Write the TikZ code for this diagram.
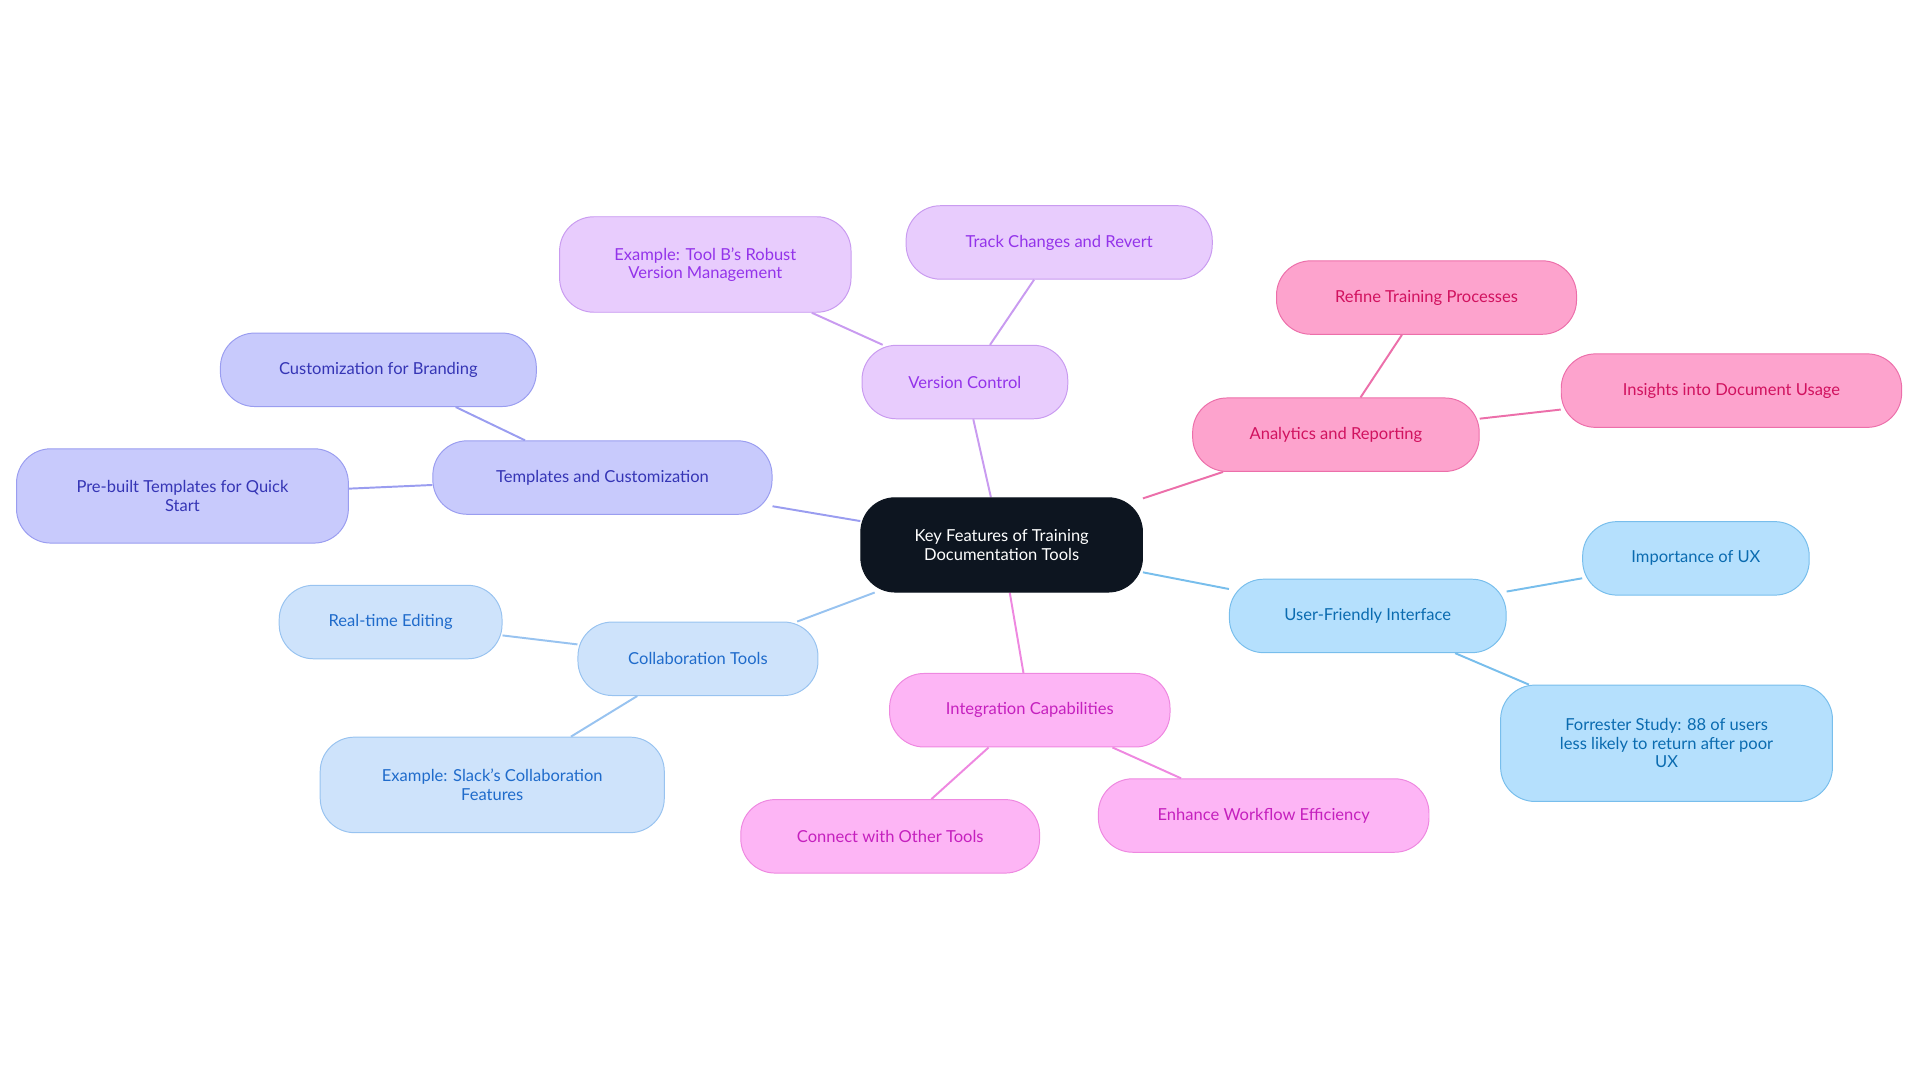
\documentclass[tikz,border=0pt]{standalone}
\usepackage{fontspec}
\setmainfont{Lato}
\usetikzlibrary{backgrounds}
\definecolor{purF}{HTML}{E8CCFD}\definecolor{purD}{HTML}{C99BF0}\definecolor{purT}{HTML}{9333EA}
\definecolor{pinF}{HTML}{FDA3CD}\definecolor{pinD}{HTML}{EC6FAA}\definecolor{pinT}{HTML}{D1125F}
\definecolor{bluF}{HTML}{B5E0FD}\definecolor{bluD}{HTML}{78BEEC}\definecolor{bluT}{HTML}{0A6BB0}
\definecolor{magF}{HTML}{FDB5F5}\definecolor{magD}{HTML}{EE88E0}\definecolor{magT}{HTML}{C520BE}
\definecolor{lbF}{HTML}{CEE3FB}\definecolor{lbD}{HTML}{98C3F0}\definecolor{lbT}{HTML}{1F6BCB}
\definecolor{indF}{HTML}{C8CAFC}\definecolor{indD}{HTML}{9A9DF0}\definecolor{indT}{HTML}{3535B5}
\definecolor{core}{HTML}{0D1520}
\tikzset{x=1pt,y=-1pt,
 box/.style={draw,line width=0.8pt,rounded corners=28pt,minimum height=60pt,align=center,font=\fontsize{13.5}{15}\selectfont,inner sep=2pt},
 pur/.style={box,fill=purF,draw=purD,text=purT},
 pin/.style={box,fill=pinF,draw=pinD,text=pinT},
 blu/.style={box,fill=bluF,draw=bluD,text=bluT},
 mag/.style={box,fill=magF,draw=magD,text=magT},
 lb/.style={box,fill=lbF,draw=lbD,text=lbT},
 ind/.style={box,fill=indF,draw=indD,text=indT},
 ed/.style={line width=1.6pt}}
\begin{document}
\begin{tikzpicture}
\useasboundingbox (0,0) rectangle (1568,884);
\node[box,fill=core,draw=core,text=white,minimum width=230pt,minimum height=77pt] (c) at (818,445) {Key Features of Training\\Documentation Tools};
\node[pur,minimum width=168pt] (vc) at (788,312) {Version Control};
\node[pur,minimum width=250pt] (tc) at (865,198) {Track Changes and Revert};
\node[pur,minimum width=238pt,minimum height=78pt] (tb) at (576,216) {Example: Tool B's Robust\\Version Management};
\node[pin,minimum width=234pt] (ar) at (1091,355) {Analytics and Reporting};
\node[pin,minimum width=245pt] (rt) at (1165,243) {Refine Training Processes};
\node[pin,minimum width=278pt] (id) at (1414,319) {Insights into Document Usage};
\node[blu,minimum width=226pt] (uf) at (1117,503) {User-Friendly Interface};
\node[blu,minimum width=185pt] (ux) at (1385,456) {Importance of UX};
\node[blu,minimum width=271pt,minimum height=95pt] (fs) at (1361,607) {Forrester Study: 88 of users\\less likely to return after poor\\UX};
\node[mag,minimum width=229pt] (ic) at (841,580) {Integration Capabilities};
\node[mag,minimum width=244pt] (co) at (727,683) {Connect with Other Tools};
\node[mag,minimum width=270pt] (ew) at (1032,666) {Enhance Workflow Efficiency};
\node[lb,minimum width=196pt] (ct) at (570,538) {Collaboration Tools};
\node[lb,minimum width=182pt] (re) at (319,508) {Real-time Editing};
\node[lb,minimum width=281pt,minimum height=78pt] (sl) at (402,641) {Example: Slack's Collaboration\\Features};
\node[ind,minimum width=277pt] (tp) at (492,390) {Templates and Customization};
\node[ind,minimum width=258pt] (cb) at (309,302) {Customization for Branding};
\node[ind,minimum width=271pt,minimum height=77pt] (pb) at (149,405) {Pre-built Templates for Quick\\Start};
\begin{scope}[on background layer]
\draw[ed,draw=purD] (c)--(vc) (vc)--(tc) (vc)--(tb);
\draw[ed,draw=pinD] (c)--(ar) (ar)--(rt) (ar)--(id);
\draw[ed,draw=bluD] (c)--(uf) (uf)--(ux) (uf)--(fs);
\draw[ed,draw=magD] (c)--(ic) (ic)--(co) (ic)--(ew);
\draw[ed,draw=lbD] (c)--(ct) (ct)--(re) (ct)--(sl);
\draw[ed,draw=indD] (c)--(tp) (tp)--(cb) (tp)--(pb);
\end{scope}
\end{tikzpicture}
\end{document}
